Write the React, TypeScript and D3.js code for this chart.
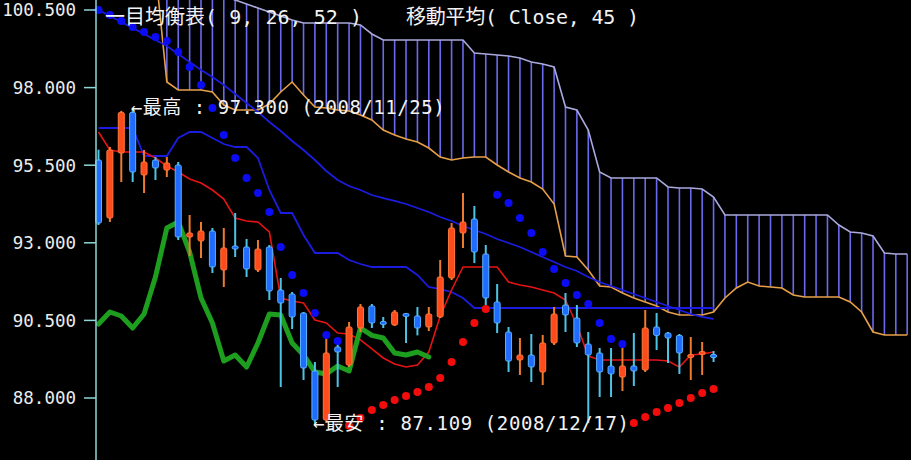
import React from 'react';
import * as d3 from 'd3';

const WIDTH = 911;
const HEIGHT = 460;

// Daily USD/JPY candles (oldest first)
const opens = [95.667, 93.799, 95.893, 97.2, 95.184, 95.667, 95.345, 95.506, 93.187, 93.058, 93.38, 92.124, 92.897, 92.865, 92.124, 92.865, 91.479, 91.351, 90.738, 88.87, 87.291, 89.643, 89.063, 90.255, 90.964, 90.449, 90.352, 90.706, 90.642, 90.288, 90.61, 91.866, 93.316, 93.767, 92.639, 91.093, 90.126, 89.224, 89.385, 88.838, 89.772, 90.996, 90.577, 89.74, 89.45, 89.031, 88.676, 89.031, 88.902, 90.288, 90.094, 90.017, 89.321, 89.418, 89.385];
const highs = [96.0, 96.086, 97.25, 97.3, 95.99, 95.764, 95.764, 95.603, 93.896, 93.67, 93.477, 93.477, 93.96, 93.122, 93.09, 92.929, 91.866, 91.415, 90.77, 89.16, 90.03, 89.868, 90.449, 91.028, 91.028, 90.61, 90.835, 90.738, 90.932, 90.932, 92.446, 93.638, 94.604, 94.185, 92.929, 91.673, 90.288, 89.933, 90.062, 90.03, 90.932, 91.383, 90.996, 90.126, 89.611, 89.611, 89.74, 90.094, 90.835, 90.738, 90.126, 90.062, 89.965, 89.804, 89.514];
const lows = [93.573, 93.67, 94.959, 94.959, 94.604, 95.023, 95.12, 93.09, 92.575, 92.51, 92.027, 91.576, 92.542, 91.898, 92.059, 91.157, 88.354, 90.223, 88.58, 87.109, 87.195, 88.354, 88.999, 90.126, 90.255, 90.255, 90.32, 89.772, 90.017, 90.158, 90.577, 91.802, 92.833, 92.349, 90.996, 90.094, 88.838, 88.741, 88.515, 88.419, 89.707, 90.126, 89.643, 87.195, 88.032, 88.032, 88.225, 88.387, 88.838, 89.546, 89.128, 88.773, 88.58, 88.741, 89.16];
const closes = [93.638, 95.99, 97.2, 95.281, 95.603, 95.41, 95.571, 93.187, 93.316, 93.38, 92.22, 92.833, 92.8, 92.156, 92.8, 91.447, 91.06, 90.61, 88.966, 87.291, 89.45, 89.482, 90.288, 90.932, 90.416, 90.384, 90.771, 90.642, 90.255, 90.706, 91.898, 93.477, 93.67, 92.704, 91.221, 90.416, 89.192, 89.385, 88.999, 89.772, 90.706, 90.674, 89.772, 89.385, 88.838, 88.773, 89.031, 88.87, 90.255, 90.017, 89.933, 89.45, 89.385, 89.482, 89.321];

// Ichimoku: conversion line (9) and base line (26)
const tenkan = [96.569, 95.99, 95.925, 95.925, 95.925, 95.732, 95.474, 95.281, 95.055, 94.926, 94.701, 94.411, 93.799, 93.702, 93.67, 93.348, 91.222, 91.125, 91.061, 90.513, 90.416, 90.094, 90.062, 89.869, 89.579, 89.289, 89.095, 88.999, 89.063, 89.482, 90.642, 91.479, 92.22, 92.22, 92.22, 92.22, 91.737, 91.64, 91.576, 91.479, 91.383, 91.157, 90.352, 89.353, 89.224, 89.224, 89.224, 89.224, 89.224, 89.224, 89.192, 88.999, 89.385, 89.418, 89.482];
const kijun = [96.698, 96.698, 96.698, 96.698, 95.796, 95.796, 95.796, 96.376, 96.569, 96.569, 96.376, 96.183, 96.086, 96.086, 95.732, 94.701, 93.96, 93.96, 93.251, 92.671, 92.671, 92.671, 92.446, 92.317, 92.22, 92.22, 92.22, 92.22, 91.963, 91.576, 91.511, 91.415, 91.222, 90.899, 90.899, 90.899, 90.899, 90.899, 90.899, 90.899, 90.899, 90.899, 90.899, 90.899, 90.899, 90.899, 90.899, 90.899, 90.899, 90.899, 90.899, 90.899, 90.899, 90.899, 90.899];

// Leading spans, starting at bar SPAN_START and running 17 bars past the last candle
const SPAN_START = 5;
const spanA = [101.8, 98.18, 97.922, 97.922, 97.922, 97.858, 97.439, 97.278, 97.278, 97.278, 97.472, 97.858, 98.18, 97.761, 97.375, 97.343, 97.278, 97.246, 97.117, 96.956, 96.634, 96.473, 96.344, 96.247, 96.054, 95.764, 95.667, 95.732, 95.764, 95.764, 95.506, 95.281, 95.088, 94.959, 94.733, 94.25, 92.575, 92.542, 92.124, 91.608, 91.576, 91.383, 91.222, 91.093, 90.964, 90.771, 90.674, 90.674, 90.674, 90.771, 91.222, 91.544, 91.737, 91.608, 91.576, 91.544, 91.318, 91.254, 91.254, 91.254, 91.254, 91.093, 90.771, 90.126, 90.03, 90.03, 90.03];
const spanB = [101.9, 101.144, 101.144, 101.144, 101.144, 101.08, 100.951, 100.822, 100.693, 100.564, 100.435, 100.307, 100.178, 100.081, 100.081, 100.081, 100.081, 100.081, 100.017, 99.727, 99.533, 99.533, 99.533, 99.533, 99.533, 99.533, 99.533, 99.533, 99.115, 99.082, 99.05, 99.018, 98.953, 98.825, 98.76, 98.664, 97.375, 97.278, 96.634, 95.281, 95.088, 95.088, 95.088, 95.088, 95.088, 94.798, 94.765, 94.765, 94.733, 94.475, 93.896, 93.896, 93.896, 93.896, 93.896, 93.896, 93.896, 93.896, 93.896, 93.896, 93.573, 93.348, 93.315, 93.219, 92.671, 92.639, 92.639];

// Lagging span shift (close plotted this many bars back)
const CHIKOU_SHIFT = 25;

// Simple moving average of closes, 45 periods
const ma45 = [100.5, 100.307, 100.113, 99.92, 99.727, 99.533, 99.34, 99.082, 98.825, 98.567, 98.341, 98.084, 97.794, 97.504, 97.214, 96.892, 96.602, 96.28, 95.99, 95.667, 95.313, 95.023, 94.83, 94.701, 94.54, 94.443, 94.347, 94.25, 94.121, 93.992, 93.831, 93.702, 93.541, 93.412, 93.283, 93.122, 92.994, 92.865, 92.704, 92.542, 92.381, 92.22, 92.091, 91.898, 91.737, 91.608, 91.479, 91.35, 91.222, 91.093, 90.964, 90.835, 90.706, 90.61, 90.545];

// Parabolic SAR
const sar = [100.5, 100.339, 100.145, 99.952, 99.791, 99.63, 99.501, 99.147, 98.664, 98.084, 97.343, 96.473, 95.732, 95.088, 94.604, 93.992, 92.865, 91.963, 91.383, 90.738, 90.03, 89.836, 87.109, 87.356, 87.613, 87.775, 87.936, 88.064, 88.193, 88.354, 88.644, 89.16, 89.804, 90.416, 90.867, 94.55, 94.282, 93.799, 93.316, 92.704, 92.156, 91.705, 91.318, 91.028, 90.416, 89.901, 89.74, 87.195, 87.388, 87.549, 87.678, 87.839, 88.0, 88.161, 88.29];

const yTicks = [100.5, 98, 95.5, 93, 90.5, 88];
const highDate = '2008/11/25';
const lowDate = '2008/12/17';
const titleLeft = '一目均衡表( 9, 26, 52 )';
const titleRight = '移動平均( Close, 45 )';

const FONT = "'DejaVu Sans Mono', 'Noto Sans CJK JP', monospace";

export default function App() {
  const lastBar = SPAN_START + spanA.length - 1;
  const x = d3.scaleLinear().domain([0, lastBar]).range([98.5, 98.5 + lastBar * 11.39]);
  const y = d3.scaleLinear().domain([88, 100.5]).range([398, 10]);

  const seriesLine = (offset: number) =>
    d3.line<number>().x((_, i) => x(i + offset)).y((d) => y(d));

  const chikou = closes.slice(CHIKOU_SHIFT);

  const hiIdx = d3.maxIndex(highs);
  const loIdx = d3.minIndex(lows);

  const bodyW = 6;

  return (
    <svg
      width={WIDTH}
      height={HEIGHT}
      style={{ position: 'absolute', left: 0, top: 0, background: '#000' }}
    >
      <rect x={0} y={0} width={WIDTH} height={HEIGHT} fill="#000" />

      {/* cloud hatching */}
      <g stroke="#6a6aec" strokeWidth={1.6}>
        {spanA.map((a, k) => (
          <line
            key={k}
            x1={x(k + SPAN_START)}
            x2={x(k + SPAN_START)}
            y1={y(a)}
            y2={y(spanB[k])}
          />
        ))}
      </g>
      <path d={seriesLine(SPAN_START)(spanB) || ''} fill="none" stroke="#a9a9dc" strokeWidth={1.6} />
      <path d={seriesLine(SPAN_START)(spanA) || ''} fill="none" stroke="#e8a048" strokeWidth={1.6} />

      {/* moving average, base and conversion lines */}
      <path d={seriesLine(0)(ma45) || ''} fill="none" stroke="#1c1ce0" strokeWidth={1.8} />
      <path d={seriesLine(0)(kijun) || ''} fill="none" stroke="#1c1ce0" strokeWidth={1.8} />
      <path d={seriesLine(0)(tenkan) || ''} fill="none" stroke="#e41414" strokeWidth={1.6} />

      {/* lagging span */}
      <path
        d={seriesLine(0)(chikou) || ''}
        fill="none"
        stroke="#1e9e1e"
        strokeWidth={5}
        strokeLinejoin="round"
        strokeLinecap="round"
      />

      {/* candles */}
      {opens.map((o, i) => {
        const c = closes[i];
        const up = c >= o;
        const cx = x(i);
        const top = y(Math.max(o, c));
        const bot = y(Math.min(o, c));
        const h = Math.max(bot - top, 3);
        return (
          <g key={i}>
            <line
              x1={cx}
              x2={cx}
              y1={y(highs[i])}
              y2={y(lows[i])}
              stroke={up ? '#ee7a2e' : '#4cc4e6'}
              strokeWidth={2}
            />
            <rect
              x={cx - bodyW / 2}
              y={top - (h - (bot - top)) / 2}
              width={bodyW}
              height={h}
              rx={1.5}
              fill={up ? '#ff4a1c' : '#1f6cff'}
              stroke={up ? '#ff7a3c' : '#5ab4ff'}
              strokeWidth={1}
            />
          </g>
        );
      })}

      {/* parabolic SAR dots */}
      {sar.map((s, i) => (
        <circle
          key={i}
          cx={x(i)}
          cy={y(s)}
          r={4}
          fill={s > closes[i] ? '#0c0cf4' : '#f20c0c'}
        />
      ))}

      {/* price axis */}
      <line x1={96} x2={96} y1={0} y2={HEIGHT} stroke="#8fd6d6" strokeWidth={1.5} />
      {yTicks.map((t) => (
        <g key={t}>
          <line x1={84} x2={96} y1={y(t)} y2={y(t)} stroke="#8fd6d6" strokeWidth={1.5} />
          <text
            x={76}
            y={y(t)}
            dy="0.36em"
            textAnchor="end"
            fill="#ececec"
            fontFamily={FONT}
            fontSize={17.5}
          >
            {t.toFixed(3)}
          </text>
        </g>
      ))}

      {/* indicator titles */}
      <text x={105} y={24} fill="#f2f2f2" fontFamily={FONT} fontSize={20} textLength={257} lengthAdjust="spacing">
        {titleLeft}
      </text>
      <text x={406} y={24} fill="#f2f2f2" fontFamily={FONT} fontSize={20} textLength={233} lengthAdjust="spacing">
        {titleRight}
      </text>

      {/* extreme price markers */}
      <text
        x={x(hiIdx) - 2}
        y={y(highs[hiIdx]) - 2}
        dy="0.36em"
        fill="#f2f2f2"
        fontFamily={FONT}
        fontSize={19}
        textLength={314}
        lengthAdjust="spacing"
      >
        {`←最高 : ${highs[hiIdx].toFixed(3)} (${highDate})`}
      </text>
      <text
        x={x(loIdx) - 2}
        y={y(lows[loIdx]) - 2}
        dy="0.36em"
        fill="#f2f2f2"
        fontFamily={FONT}
        fontSize={19}
        textLength={316}
        lengthAdjust="spacing"
      >
        {`←最安 : ${lows[loIdx].toFixed(3)} (${lowDate})`}
      </text>
    </svg>
  );
}
